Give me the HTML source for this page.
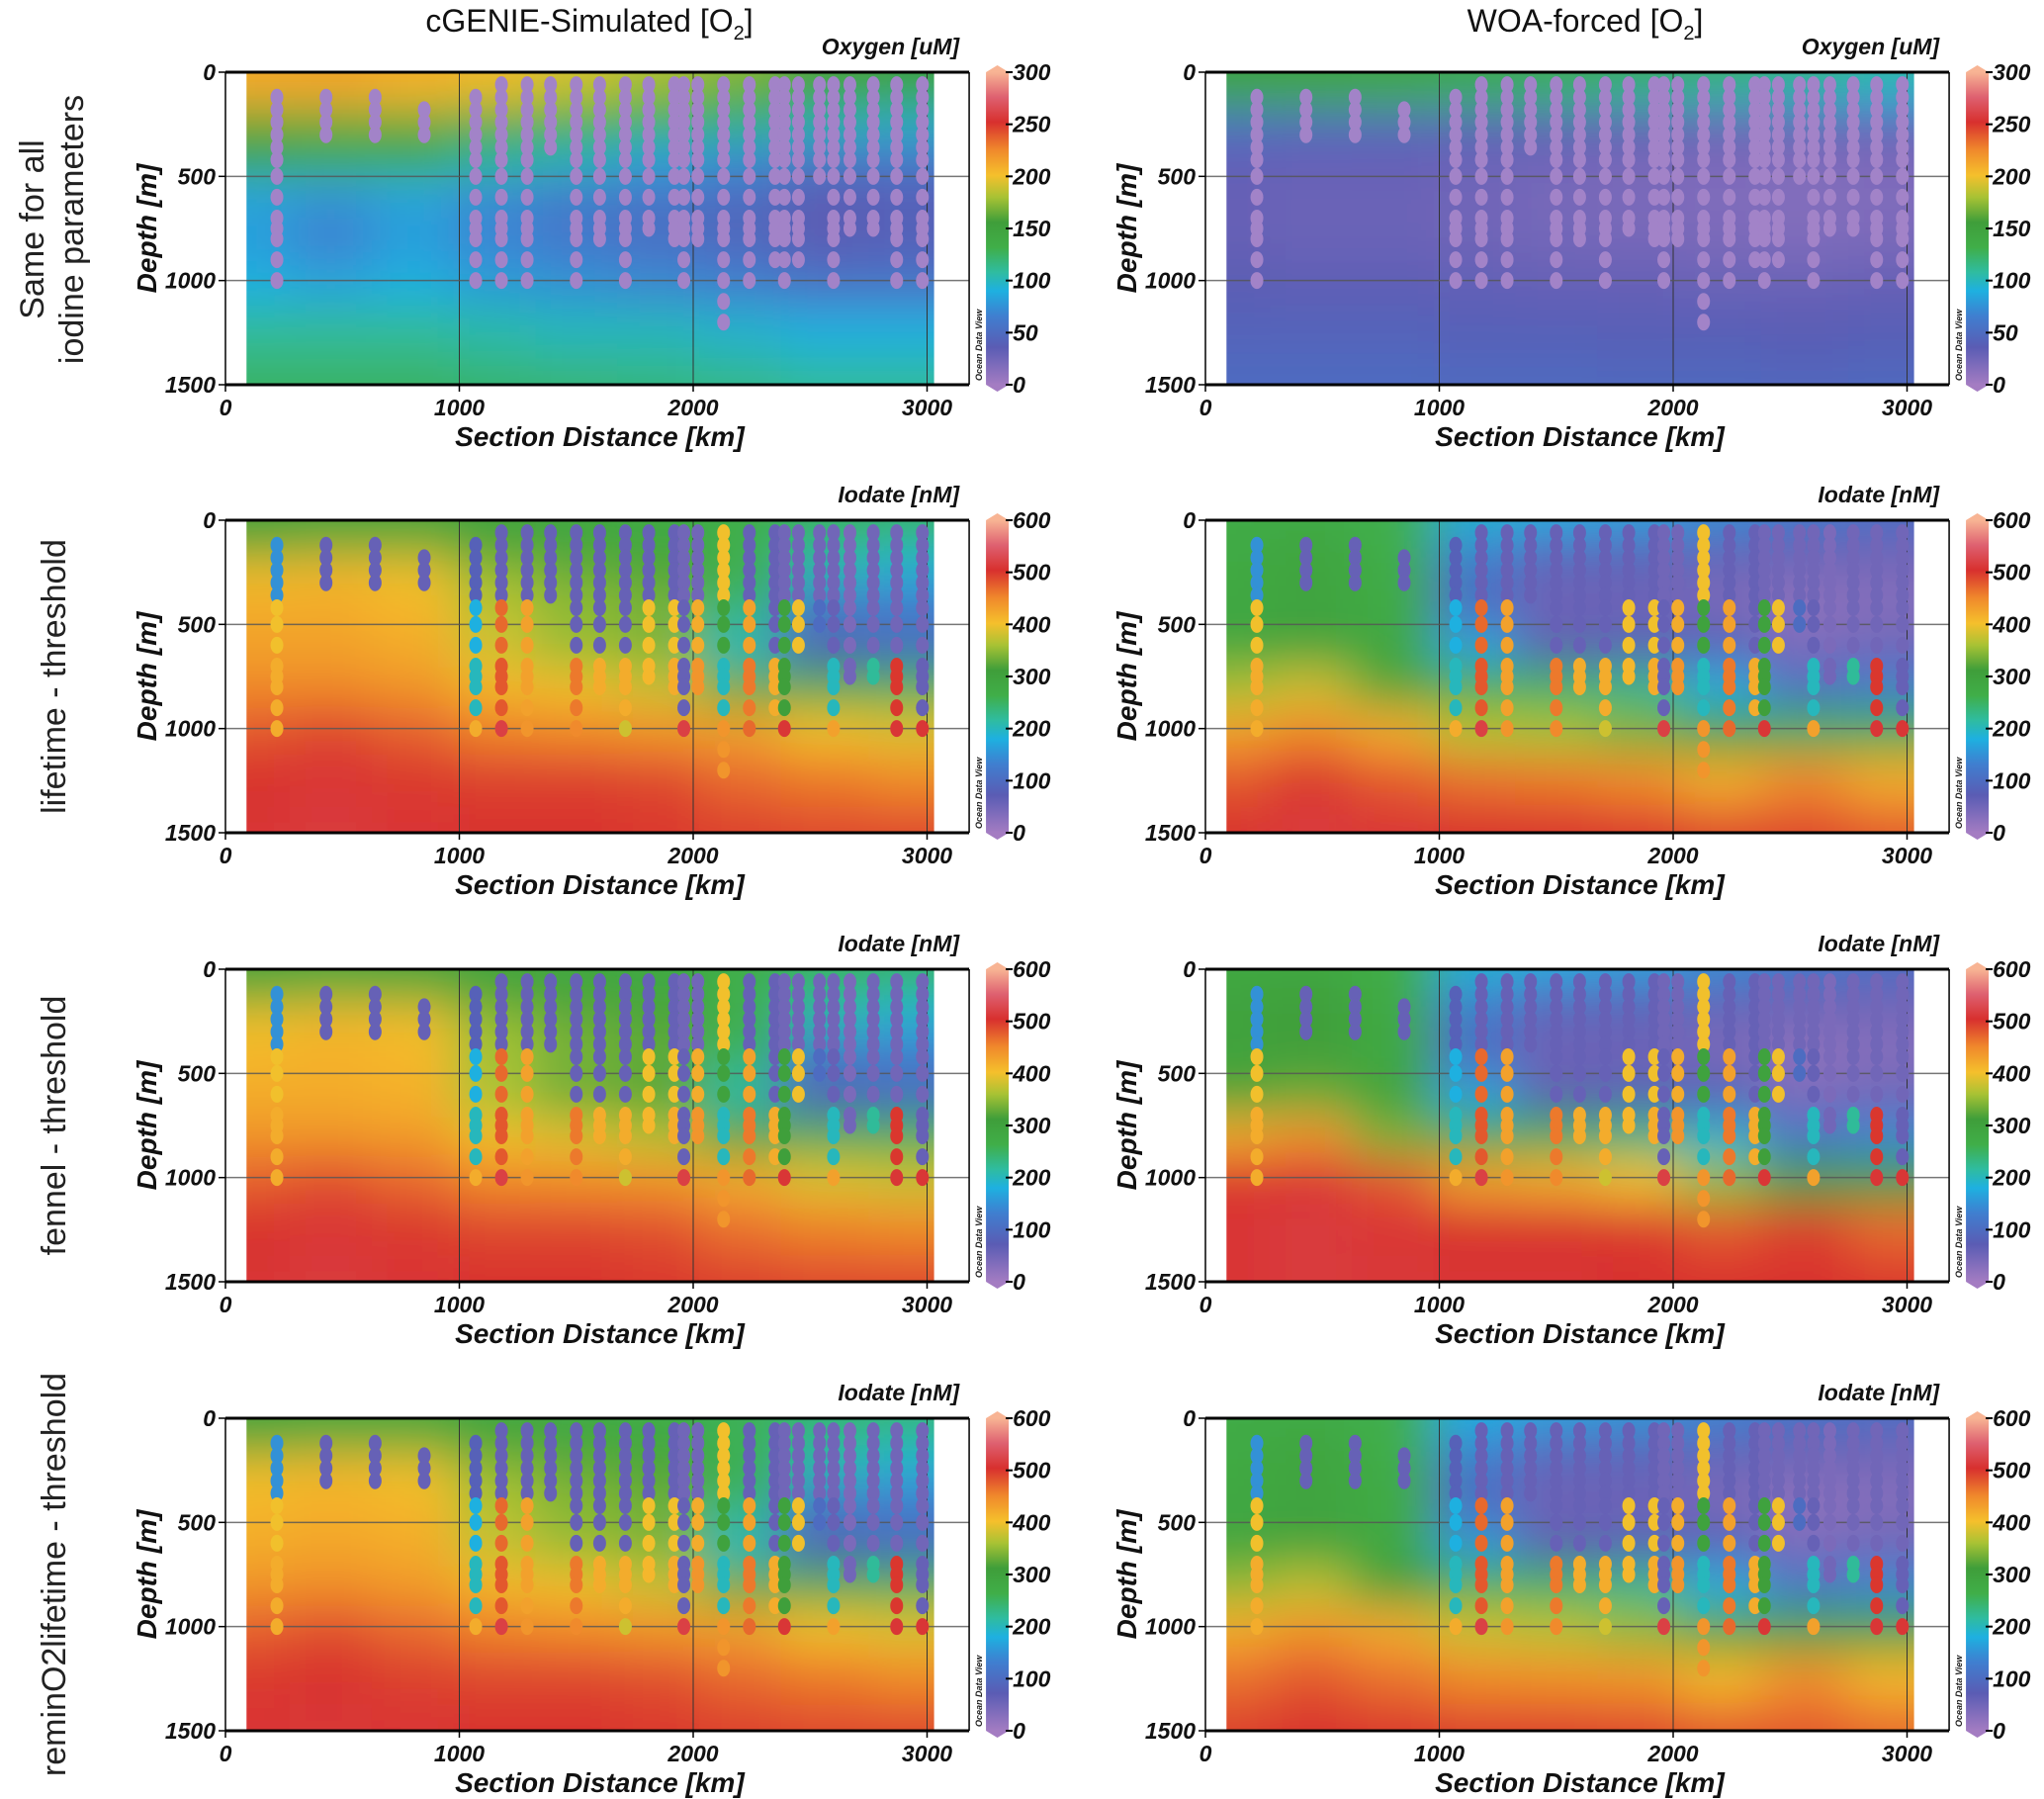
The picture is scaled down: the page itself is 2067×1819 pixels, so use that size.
<!DOCTYPE html>
<html><head><meta charset="utf-8">
<style>
html,body{margin:0;padding:0;background:#fff;}
svg{display:block;font-family:"Liberation Sans",sans-serif;}
.tk{font-weight:bold;font-style:italic;font-size:23px;fill:#111;}
.ax{font-weight:bold;font-style:italic;font-size:28px;fill:#111;}
.cb{font-weight:bold;font-style:italic;font-size:23px;fill:#111;}
.ttl{font-size:32px;fill:#111;}
.row{font-size:34px;fill:#222;}
</style></head>
<body>
<svg id="fig" width="2067" height="1819" viewBox="0 0 2067 1819" xmlns="http://www.w3.org/2000/svg">
<defs>
<filter id="blur" filterUnits="userSpaceOnUse" x="0" y="0" width="2067" height="1819"><feGaussianBlur stdDeviation="24"/></filter>
<linearGradient id="cbgrad" x1="0" y1="1" x2="0" y2="0"></linearGradient>
</defs>
<text class="ttl" x="596" y="32" text-anchor="middle">cGENIE-Simulated [O<tspan font-size="20" dy="8">2</tspan><tspan dy="-8">]</tspan></text>
<text class="ttl" x="1603" y="32" text-anchor="middle">WOA-forced [O<tspan font-size="20" dy="8">2</tspan><tspan dy="-8">]</tspan></text>
<text class="row" transform="translate(44,232) rotate(-90)" text-anchor="middle">Same for all</text>
<text class="row" transform="translate(84,232) rotate(-90)" text-anchor="middle">iodine parameters</text>
<text class="row" transform="translate(66,684) rotate(-90)" text-anchor="middle">lifetime - threshold</text>
<text class="row" transform="translate(66,1138) rotate(-90)" text-anchor="middle">fennel - threshold</text>
<text class="row" transform="translate(66,1592) rotate(-90)" text-anchor="middle">reminO2lifetime - threshold</text>
<g id="panels"></g>
</svg>
<script>
const gridX = [100,450,800,1150,1500,1850,2200,2550,2950];
const gridD = [0,100,250,400,600,800,1000,1250,1500];
const xTicks = [0,1000,2000,3000];
const yTicks = [0,500,1000,1500];
const o2Ticks = [0,50,100,150,200,250,300];
const ioTicks = [0,100,200,300,400,500,600];

const fieldCgO2 = [
 [212,215,210,205,195,185,175,160,150],
 [210,210,205,195,180,170,160,150,145],
 [160,160,160,150,140,125,115,100,95],
 [140,130,130,110,100,85,75,60,60],
 [85,78,85,72,62,55,48,35,40],
 [80,65,80,68,58,52,45,35,40],
 [90,85,90,80,75,70,65,55,55],
 [110,110,110,105,100,100,95,90,90],
 [125,125,125,122,120,118,115,110,110]];
const fieldWoaO2 = [
 [150,150,148,145,140,138,130,120,110],
 [140,135,130,122,115,105,100,95,90],
 [55,50,48,42,40,36,33,33,33],
 [32,30,30,28,25,22,20,18,20],
 [30,28,28,25,22,20,18,16,18],
 [30,28,28,26,24,22,20,18,20],
 [35,34,34,32,30,30,28,28,30],
 [42,42,42,40,40,38,38,36,38],
 [50,50,50,48,48,47,47,46,47]];
const fieldCgLife = [
 [300,300,300,290,280,275,265,255,250],
 [320,330,330,310,295,280,260,230,220],
 [400,410,400,350,330,320,270,200,180],
 [420,420,410,370,350,340,240,120,120],
 [430,430,420,380,350,340,200,80,100],
 [450,450,440,410,400,380,330,270,260],
 [480,490,475,455,450,440,430,400,390],
 [505,510,500,495,495,490,470,460,450],
 [510,515,510,505,505,500,495,490,490]];
const fieldWoaLife = [
 [270,270,260,190,180,170,150,130,110],
 [275,290,265,150,110,100,90,70,60],
 [280,295,270,110,60,60,50,40,40],
 [285,295,275,100,50,50,40,20,30],
 [290,300,285,170,70,80,80,40,50],
 [360,380,320,270,250,230,180,110,130],
 [430,450,420,370,360,340,300,260,270],
 [480,500,480,465,460,450,420,450,420],
 [505,515,510,505,505,500,490,490,480]];
const fieldCgFen = [
 [300,300,300,290,280,275,265,255,250],
 [330,340,335,315,300,285,260,230,220],
 [400,410,405,350,330,320,270,200,180],
 [410,415,410,360,340,330,250,120,120],
 [420,420,415,360,330,320,210,80,100],
 [440,440,435,400,390,370,320,260,260],
 [475,485,470,450,445,440,420,390,380],
 [505,510,500,490,490,485,465,455,450],
 [510,515,510,505,505,500,495,490,490]];
const fieldWoaFen = [
 [280,280,265,190,180,170,150,130,110],
 [295,305,275,150,110,100,90,70,60],
 [300,310,280,110,60,60,50,40,40],
 [300,310,280,100,50,50,40,20,30],
 [320,330,300,170,70,80,80,40,50],
 [420,440,340,280,260,240,190,120,140],
 [500,510,480,430,420,400,350,310,310],
 [510,515,510,505,505,500,480,495,470],
 [510,515,512,508,510,505,505,505,500]];
const fieldCgRem = [
 [290,290,290,280,270,265,255,245,240],
 [320,330,330,310,295,280,255,225,215],
 [400,410,400,350,330,320,270,200,180],
 [410,415,410,365,345,335,240,120,120],
 [420,425,420,375,350,340,200,80,100],
 [440,445,435,410,400,380,330,270,260],
 [475,485,470,455,450,440,430,400,390],
 [500,505,495,490,490,485,470,460,450],
 [510,512,508,505,505,500,495,490,490]];
const fieldWoaRem = [
 [270,270,260,180,170,160,140,120,110],
 [275,290,265,150,110,100,90,70,60],
 [280,295,270,110,60,60,50,40,40],
 [285,295,275,100,50,50,40,20,30],
 [290,300,280,160,70,80,80,40,50],
 [350,370,310,265,250,230,180,120,140],
 [420,440,420,380,370,350,320,290,300],
 [465,480,465,450,445,440,410,445,410],
 [495,505,500,495,495,490,480,480,470]];

const stations = [220,430,640,850,1070,1180,1290,1390,1500,1600,1710,1810,1920,1960,2020,2130,2240,2350,2390,2450,2540,2600,2670,2770,2870,2980];
const stMin = [120,100,100,150,100,60,60,60,60,60,60,60,60,60,60,60,60,60,60,60,60,60,60,60,60,60];
const stMax = [1000,350,350,350,1000,1000,1000,400,1000,800,1000,750,800,1000,800,1200,1000,900,1000,900,500,1000,750,750,1000,1000];
const depthLevels = [10,60,120,180,240,300,360,420,500,600,700,750,800,900,1000,1100,1200];
const obsIoUp = [150,60,60,60,80,60,60,60,60,60,60,60,60,50,50,400,60,60,50,50,50,50,40,50,50,50];
const obsIoMid1 = [400,null,null,null,180,470,430,400,60,60,60,400,400,60,420,300,430,60,300,400,100,60,40,50,50,50];
const obsIoMid2 = [420,null,null,null,200,480,430,null,460,420,420,410,420,60,440,200,460,420,310,null,null,200,50,220,500,60];
const obsIo1000 = [420,null,null,null,420,520,440,null,450,null,380,null,null,520,null,440,470,null,510,null,null,430,null,null,510,510];
const obsO2Upper = [30,30,30,30,25,25,30,30,30,30,30,30,30,30,30,30,30,30,30,30,30,30,30,30,30,30];
const obsO2Lower = [20,20,20,20,20,20,20,20,20,20,20,20,20,20,20,20,20,20,20,20,20,20,20,20,20,20];

const cmapStops = [[0,'#a47cc2'],[0.12,'#5a5cb4'],[0.22,'#3f7fd0'],[0.3,'#1eb0e0'],[0.36,'#2fbca0'],[0.44,'#40ae48'],[0.52,'#3f9e3a'],[0.6,'#a8c234'],[0.67,'#f5c02c'],[0.75,'#f08a2c'],[0.84,'#d8302e'],[0.92,'#de6070'],[1,'#f8b494']];

const NS='http://www.w3.org/2000/svg';
function mk(tag,attrs,parent){const e=document.createElementNS(NS,tag);for(const k in attrs)e.setAttribute(k,attrs[k]);if(parent)parent.appendChild(e);return e;}
function hex(h){return [parseInt(h.substr(1,2),16),parseInt(h.substr(3,2),16),parseInt(h.substr(5,2),16)];}
function cmap(t){t=Math.max(0,Math.min(1,t));for(let i=1;i<cmapStops.length;i++){if(t<=cmapStops[i][0]){const a=cmapStops[i-1],b=cmapStops[i];const f=(t-a[0])/(b[0]-a[0]);const ca=hex(a[1]),cb=hex(b[1]);return 'rgb('+ca.map((v,j)=>Math.round(v+(cb[j]-v)*f)).join(',')+')';}}return cmapStops[cmapStops.length-1][1];}

const grad=document.getElementById('cbgrad');
cmapStops.forEach(s=>mk('stop',{offset:s[0],'stop-color':s[1]},grad));

const colX0=[228,1219], pxPerKm=0.2365, rowTop=[73,526,980,1434], plotH=316;
const panels=[
 {row:0,col:0,f:fieldCgO2,max:300,lab:'Oxygen [uM]',ticks:o2Ticks,o2:true},
 {row:0,col:1,f:fieldWoaO2,max:300,lab:'Oxygen [uM]',ticks:o2Ticks,o2:true},
 {row:1,col:0,f:fieldCgLife,max:600,lab:'Iodate [nM]',ticks:ioTicks},
 {row:1,col:1,f:fieldWoaLife,max:600,lab:'Iodate [nM]',ticks:ioTicks},
 {row:2,col:0,f:fieldCgFen,max:600,lab:'Iodate [nM]',ticks:ioTicks},
 {row:2,col:1,f:fieldWoaFen,max:600,lab:'Iodate [nM]',ticks:ioTicks},
 {row:3,col:0,f:fieldCgRem,max:600,lab:'Iodate [nM]',ticks:ioTicks},
 {row:3,col:1,f:fieldWoaRem,max:600,lab:'Iodate [nM]',ticks:ioTicks}];
const root=document.getElementById('panels');
panels.forEach((p,pi)=>{
 const x0=colX0[p.col], top=rowTop[p.row];
 const xs=k=>x0+k*pxPerKm, ys=d=>top+d/1500*plotH;
 const right=xs(3180);
 const g=mk('g',{},root);
 
 
 const cp=mk('clipPath',{id:'clip'+pi},g);
 mk('rect',{x:xs(90),y:top,width:xs(3030)-xs(90),height:plotH},cp);
 const clipG=mk('g',{'clip-path':'url(#clip'+pi+')'},g);
 const fg=mk('g',{filter:'url(#blur)'},clipG);
 
 
 for(let r=0;r<gridD.length;r++)for(let c=0;c<gridX.length;c++){
  let xa=c==0?xs(gridX[0])-80:xs((gridX[c-1]+gridX[c])/2);
  let xb=c==gridX.length-1?xs(gridX[c])+80:xs((gridX[c]+gridX[c+1])/2);
  let ya=r==0?ys(0)-80:ys((gridD[r-1]+gridD[r])/2);
  let yb=r==gridD.length-1?ys(1500)+80:ys((gridD[r]+gridD[r+1])/2);
  const cell=mk('rect',{x:xa,y:ya,width:xb-xa+1,height:yb-ya+1,fill:cmap(p.f[r][c]/p.max)},fg);
  
  
 }
 xTicks.slice(1).forEach(t=>mk('line',{x1:xs(t),x2:xs(t),y1:top,y2:top+plotH,stroke:'#333','stroke-width':1},g));
 [500,1000].forEach(t=>mk('line',{x1:x0,x2:right,y1:ys(t),y2:ys(t),stroke:'#555','stroke-width':1.5,opacity:0.8},g));
 const pg=mk('g',{},g);
 
 
 stations.forEach((s,si)=>{depthLevels.forEach(d=>{
  if(d<stMin[si]||d>stMax[si])return;
  let v;
  if(p.o2) v=d<400?obsO2Upper[si]:obsO2Lower[si];
  else {
   if(d<400) v=obsIoUp[si];
   else if(d>=1000) v=obsIo1000[si];
   else if(d<=600) v=obsIoMid1[si];
   else v=obsIoMid2[si];
   if(v==null) return;
  }
  const col=p.o2?'#a283c8':cmap(v/p.max);
  const e=mk('ellipse',{cx:xs(s),cy:ys(d),rx:6.5,ry:8.5,fill:col},pg);
  
  
 });});
 mk('line',{x1:x0,x2:right,y1:top,y2:top,stroke:'#000','stroke-width':3},g);
 mk('line',{x1:x0,x2:right,y1:top+plotH,y2:top+plotH,stroke:'#000','stroke-width':3},g);
 mk('line',{x1:x0,x2:x0,y1:top,y2:top+plotH,stroke:'#000','stroke-width':1.5},g);
 mk('line',{x1:right,x2:right,y1:top,y2:top+plotH,stroke:'#000','stroke-width':1.5},g);
 xTicks.forEach(t=>{mk('line',{x1:xs(t),x2:xs(t),y1:top+plotH,y2:top+plotH+7,stroke:'#000','stroke-width':1.5},g);
  const tx=mk('text',{x:xs(t),y:top+plotH+31,'text-anchor':'middle',class:'tk'},g);tx.textContent=t;
  });
 yTicks.forEach(t=>{mk('line',{x1:x0-7,x2:x0,y1:ys(t),y2:ys(t),stroke:'#000','stroke-width':1.5},g);
  const tx=mk('text',{x:x0-10,y:ys(t)+8,'text-anchor':'end',class:'tk'},g);tx.textContent=t;
  });
 const xt=mk('text',{x:xs(1600),y:top+plotH+62,'text-anchor':'middle',class:'ax'},g);xt.textContent='Section Distance [km]';
 
 const yt=mk('text',{transform:'translate('+(x0-70)+','+(top+plotH/2)+') rotate(-90)','text-anchor':'middle',class:'ax'},g);yt.textContent='Depth [m]';
 
 const cbx=right+17, cbw=23;
 const cbg=mk('g',{},g);
 
 
 mk('rect',{x:cbx,y:top,width:cbw,height:plotH,fill:'url(#cbgrad)'},cbg);
 mk('polygon',{points:(cbx)+','+top+' '+(cbx+cbw/2)+','+(top-7)+' '+(cbx+cbw)+','+top,fill:cmapStops[cmapStops.length-1][1]},cbg);
 mk('polygon',{points:(cbx)+','+(top+plotH)+' '+(cbx+cbw/2)+','+(top+plotH+7)+' '+(cbx+cbw)+','+(top+plotH),fill:cmapStops[0][1]},cbg);
 p.ticks.forEach(t=>{const y=top+plotH-t/p.max*plotH;
  mk('line',{x1:cbx+cbw-3,x2:cbx+cbw+4,y1:y,y2:y,stroke:'#000','stroke-width':2},cbg);
  const tx=mk('text',{x:cbx+cbw+4,y:y+8,class:'cb'},cbg);tx.textContent=t;
  });
 const lt=mk('text',{x:right-10,y:top-18,'text-anchor':'end',class:'ax'},g);lt.textContent=p.lab;
 lt.setAttribute('style','font-size:23px');
 
 const odv=mk('text',{transform:'translate('+(cbx-4)+','+(top+plotH-4)+') rotate(-90)',style:'font-size:9px;font-style:italic;font-weight:bold',fill:'#222'},g);odv.textContent='Ocean Data View';
 
});
</script>
</body></html>
